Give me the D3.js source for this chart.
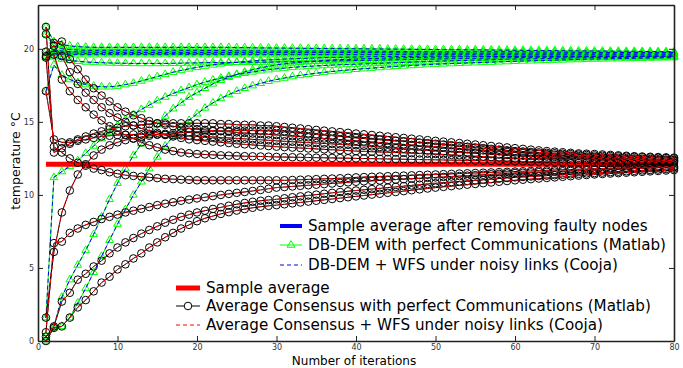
<!DOCTYPE html>
<html>
<head>
<meta charset="utf-8">
<script src="https://cdn.jsdelivr.net/npm/d3@7/dist/d3.min.js"></script>
<style>
  body { margin: 0; background: #fff; }
  svg { display: block; font-family: "DejaVu Sans", sans-serif; }
</style>
</head>
<body>
<div id="chart"></div>
<script>
// iterations 1..80, one value per iteration for each node
const sampleAverage = 12.1;
const sampleAverageNoFaulty = 19.7;

const xTicks = [0, 10, 20, 30, 40, 50, 60, 70, 80];
const yTicks = [0, 5, 10, 15, 20];

// Average Consensus (Matlab), one array per node
const consensusNode1 = [21.5,12.9,13.2,13.5,13.8,14.0,14.2,14.35,14.5,14.6, 14.7,14.75,14.8,14.85,14.9,14.9,14.9,14.9,14.9,14.9, 14.9,14.9,14.85,14.85,14.8,14.8,14.8,14.75,14.75,14.7, 14.65,14.6,14.55,14.5,14.45,14.4,14.35,14.3,14.25,14.2, 14.15,14.1,14.05,14.0,13.95,13.9,13.85,13.8,13.75,13.7, 13.65,13.6,13.55,13.5,13.45,13.4,13.35,13.3,13.25,13.2, 13.15,13.1,13.05,13.0,12.96,12.92,12.88,12.84,12.82,12.8, 12.77,12.74,12.71,12.68,12.65,12.63,12.61,12.59,12.57,12.55];
const consensusNode2 = [21.0,20.4,20.5,19.3,18.6,17.9,17.3,16.8,16.4,16.0, 15.7,15.45,15.25,15.05,14.9,14.8,14.7,14.6,14.55,14.5, 14.45,14.4,14.36,14.32,14.28,14.24,14.2,14.17,14.14,14.1, 14.06,14.02,13.98,13.94,13.9,13.86,13.82,13.78,13.74,13.7, 13.66,13.62,13.58,13.54,13.5,13.46,13.42,13.38,13.34,13.3, 13.26,13.22,13.18,13.14,13.1,13.06,13.02,12.98,12.94,12.9, 12.87,12.84,12.81,12.78,12.75,12.72,12.69,12.66,12.63,12.6, 12.58,12.56,12.54,12.52,12.5,12.48,12.46,12.44,12.42,12.4];
const consensusNode3 = [19.8,20.2,19.5,18.4,17.6,17.0,16.5,16.0,15.6,15.3, 15.0,14.75,14.55,14.4,14.25,14.1,14.0,13.9,13.8,13.75, 13.7,13.65,13.6,13.55,13.5,13.46,13.42,13.38,13.34,13.3, 13.27,13.24,13.21,13.18,13.15,13.12,13.09,13.06,13.03,13.0, 12.98,12.96,12.94,12.92,12.9,12.88,12.86,12.84,12.82,12.8, 12.77,12.74,12.71,12.68,12.65,12.62,12.59,12.56,12.53,12.5, 12.49,12.48,12.47,12.46,12.45,12.44,12.43,12.42,12.41,12.4, 12.39,12.38,12.37,12.36,12.35,12.34,12.33,12.32,12.31,12.3];
const consensusNode4 = [19.5,19.6,17.9,17.1,16.5,16.0,15.5,15.1,14.7,14.4, 14.1,13.85,13.6,13.4,13.25,13.1,13.0,12.9,12.85,12.8, 12.77,12.74,12.71,12.69,12.67,12.65,12.64,12.63,12.62,12.6, 12.59,12.58,12.57,12.56,12.55,12.54,12.53,12.52,12.51,12.5, 12.49,12.48,12.47,12.46,12.45,12.44,12.43,12.42,12.41,12.4, 12.39,12.38,12.37,12.36,12.35,12.34,12.33,12.32,12.31,12.3, 12.29,12.28,12.27,12.26,12.25,12.24,12.23,12.22,12.21,12.2, 12.2,12.2,12.2,12.2,12.2,12.2,12.2,12.2,12.2,12.2];
const consensusNode5 = [19.4,13.3,12.9,12.5,12.2,12.0,11.8,11.7,11.55,11.45, 11.35,11.3,11.25,11.2,11.15,11.1,11.08,11.05,11.03,11.0, 11.0,11.0,11.0,11.0,11.0,11.0,11.0,11.0,11.0,11.0, 11.0,11.02,11.04,11.06,11.08,11.1,11.12,11.14,11.17,11.2, 11.22,11.24,11.26,11.28,11.3,11.32,11.34,11.36,11.38,11.4, 11.42,11.44,11.46,11.48,11.5,11.52,11.54,11.56,11.58,11.6, 11.62,11.64,11.66,11.68,11.7,11.72,11.74,11.76,11.78,11.8, 11.81,11.83,11.84,11.86,11.87,11.89,11.9,11.92,11.93,11.95];
const consensusNode6 = [17.1,13.8,13.6,13.6,13.7,13.8,13.9,14.0,14.05,14.1, 14.12,14.14,14.15,14.15,14.14,14.12,14.1,14.08,14.05,14.02, 14.0,13.97,13.93,13.9,13.87,13.84,13.8,13.77,13.74,13.7, 13.67,13.64,13.61,13.58,13.55,13.52,13.49,13.46,13.43,13.4, 13.36,13.32,13.28,13.24,13.2,13.16,13.12,13.08,13.04,13.0, 12.97,12.94,12.91,12.88,12.85,12.82,12.79,12.76,12.73,12.7, 12.68,12.66,12.64,12.62,12.6,12.58,12.56,12.54,12.52,12.5, 12.48,12.47,12.45,12.44,12.42,12.41,12.39,12.38,12.36,12.35];
const consensusNode7 = [1.6,6.1,8.8,10.3,11.4,12.1,12.7,13.1,13.4,13.6, 13.75,13.87,13.97,14.05,14.12,14.18,14.22,14.26,14.29,14.32, 14.34,14.36,14.38,14.39,14.4,14.4,14.4,14.4,14.4,14.4, 14.36,14.31,14.26,14.21,14.16,14.11,14.06,14.01,13.96,13.9, 13.86,13.82,13.78,13.74,13.7,13.66,13.62,13.58,13.54,13.5, 13.45,13.4,13.35,13.3,13.25,13.2,13.15,13.1,13.05,13.0, 12.97,12.94,12.91,12.88,12.85,12.82,12.79,12.76,12.73,12.7, 12.68,12.66,12.64,12.62,12.6,12.58,12.56,12.54,12.52,12.5];
const consensusNode8 = [0.6,6.7,6.8,7.4,7.7,7.95,8.15,8.35,8.5,8.65, 8.8,8.92,9.05,9.17,9.3,9.4,9.5,9.6,9.68,9.76, 9.84,9.92,10.0,10.07,10.14,10.2,10.27,10.34,10.42,10.5, 10.54,10.58,10.62,10.66,10.7,10.74,10.78,10.82,10.86,10.9, 10.93,10.96,10.99,11.02,11.05,11.08,11.11,11.14,11.17,11.2, 11.23,11.26,11.29,11.32,11.35,11.38,11.41,11.44,11.47,11.5, 11.52,11.54,11.56,11.58,11.6,11.62,11.64,11.66,11.68,11.7, 11.72,11.74,11.76,11.78,11.8,11.82,11.84,11.86,11.88,11.9];
const consensusNode9 = [0.3,1.0,2.7,3.3,4.2,4.6,5.1,5.5,6.0,6.4, 6.75,7.05,7.35,7.6,7.85,8.1,8.3,8.5,8.65,8.8, 8.92,9.04,9.15,9.26,9.36,9.45,9.53,9.6,9.65,9.7, 9.77,9.84,9.9,9.96,10.02,10.08,10.14,10.2,10.25,10.3, 10.35,10.4,10.45,10.5,10.55,10.6,10.65,10.7,10.75,10.8, 10.84,10.88,10.92,10.96,11.0,11.04,11.08,11.12,11.16,11.2, 11.23,11.26,11.29,11.32,11.35,11.38,11.41,11.44,11.47,11.5, 11.53,11.56,11.59,11.62,11.65,11.68,11.71,11.74,11.77,11.8];
const consensusNode10 = [0.0,0.9,1.0,1.6,2.3,2.8,3.4,4.0,4.4,4.9, 5.25,5.65,6.0,6.4,6.75,7.1,7.4,7.7,7.95,8.2, 8.4,8.55,8.7,8.82,8.93,9.03,9.12,9.19,9.25,9.3, 9.36,9.42,9.48,9.54,9.6,9.66,9.72,9.78,9.84,9.9, 9.96,10.02,10.08,10.14,10.2,10.26,10.32,10.38,10.44,10.5, 10.55,10.6,10.65,10.7,10.75,10.8,10.85,10.9,10.95,11.0, 11.04,11.08,11.12,11.16,11.2,11.24,11.28,11.32,11.36,11.4, 11.43,11.46,11.49,11.52,11.55,11.58,11.61,11.64,11.67,11.7];

// DB-DEM (Matlab), one array per node
const dbdemNode1 = [21.5,20.5,20.3,20.2,20.15,20.12,20.1,20.1,20.1,20.1, 20.1,20.1,20.1,20.1,20.1,20.1,20.1,20.1,20.1,20.1, 20.1,20.1,20.1,20.1,20.08,20.08,20.07,20.06,20.06,20.05, 20.05,20.04,20.04,20.03,20.03,20.02,20.02,20.01,20.01,20.0, 20.0,19.99,19.99,19.98,19.98,19.97,19.97,19.96,19.96,19.95, 19.95,19.94,19.94,19.93,19.93,19.92,19.92,19.91,19.91,19.9, 19.9,19.89,19.89,19.88,19.88,19.87,19.87,19.86,19.86,19.85, 19.85,19.84,19.84,19.83,19.83,19.82,19.82,19.81,19.81,19.8];
const dbdemNode2 = [21.0,20.2,20.0,19.95,19.92,19.9,19.9,19.9,19.9,19.9, 19.9,19.9,19.9,19.9,19.9,19.9,19.9,19.9,19.9,19.9, 19.89,19.89,19.88,19.88,19.87,19.87,19.86,19.86,19.85,19.85, 19.85,19.85,19.85,19.85,19.85,19.85,19.85,19.85,19.85,19.85, 19.84,19.84,19.83,19.83,19.82,19.82,19.81,19.81,19.8,19.8, 19.8,19.8,19.8,19.8,19.8,19.8,19.8,19.8,19.8,19.8, 19.8,19.79,19.79,19.78,19.78,19.77,19.77,19.76,19.76,19.75, 19.75,19.75,19.75,19.75,19.75,19.75,19.75,19.75,19.75,19.75];
const dbdemNode3 = [19.8,19.9,19.85,19.8,19.78,19.77,19.76,19.76,19.75,19.75, 19.75,19.75,19.75,19.75,19.75,19.75,19.75,19.75,19.75,19.75, 19.75,19.75,19.75,19.75,19.75,19.75,19.75,19.75,19.75,19.75, 19.75,19.75,19.75,19.75,19.75,19.75,19.75,19.75,19.75,19.75, 19.74,19.74,19.73,19.73,19.72,19.72,19.71,19.71,19.7,19.7, 19.7,19.7,19.7,19.7,19.7,19.7,19.7,19.7,19.7,19.7, 19.7,19.7,19.7,19.7,19.7,19.7,19.7,19.7,19.7,19.7, 19.7,19.7,19.7,19.7,19.7,19.7,19.7,19.7,19.7,19.7];
const dbdemNode4 = [19.5,19.7,19.65,19.62,19.6,19.6,19.6,19.6,19.6,19.6, 19.6,19.6,19.6,19.6,19.6,19.6,19.6,19.6,19.6,19.6, 19.6,19.6,19.6,19.6,19.6,19.6,19.6,19.6,19.6,19.6, 19.6,19.6,19.6,19.6,19.6,19.6,19.6,19.6,19.6,19.6, 19.6,19.6,19.6,19.6,19.6,19.6,19.6,19.6,19.6,19.6, 19.6,19.6,19.6,19.6,19.6,19.6,19.6,19.6,19.6,19.6, 19.6,19.6,19.6,19.6,19.6,19.6,19.6,19.6,19.6,19.6, 19.6,19.6,19.6,19.6,19.6,19.6,19.6,19.6,19.6,19.6];
const dbdemNode5 = [19.4,19.45,19.3,19.2,19.15,19.1,19.07,19.05,19.03,19.02, 19.01,19.0,19.0,19.0,19.0,19.0,19.01,19.02,19.03,19.04, 19.05,19.06,19.06,19.07,19.07,19.08,19.08,19.09,19.09,19.1, 19.11,19.12,19.13,19.14,19.15,19.16,19.17,19.18,19.19,19.2, 19.21,19.22,19.23,19.24,19.25,19.26,19.27,19.28,19.29,19.3, 19.31,19.32,19.33,19.34,19.35,19.36,19.37,19.38,19.39,19.4, 19.41,19.41,19.42,19.42,19.43,19.43,19.44,19.44,19.45,19.45, 19.46,19.46,19.47,19.47,19.48,19.48,19.49,19.49,19.5,19.5];
const dbdemNode6 = [17.1,18.9,18.2,17.9,17.7,17.55,17.45,17.4,17.4,17.45, 17.55,17.65,17.8,17.95,18.1,18.25,18.4,18.52,18.63,18.73, 18.82,18.9,18.97,19.03,19.08,19.13,19.17,19.21,19.24,19.27, 19.3,19.32,19.34,19.36,19.38,19.4,19.41,19.42,19.43,19.44, 19.45,19.46,19.46,19.47,19.47,19.48,19.48,19.49,19.49,19.5, 19.5,19.5,19.5,19.5,19.5,19.5,19.5,19.5,19.5,19.5, 19.5,19.5,19.5,19.5,19.5,19.5,19.5,19.5,19.5,19.5, 19.5,19.5,19.5,19.5,19.5,19.5,19.5,19.5,19.5,19.5];
const dbdemNode7 = [1.6,11.2,11.6,11.95,12.35,12.85,13.35,13.85,14.3,14.75, 15.15,15.5,15.85,16.15,16.45,16.7,16.95,17.15,17.35,17.55, 17.72,17.87,18.0,18.12,18.23,18.33,18.42,18.5,18.57,18.63, 18.68,18.73,18.77,18.8,18.83,18.86,18.89,18.91,18.93,18.95, 18.97,18.99,19.01,19.03,19.05,19.07,19.09,19.11,19.13,19.15, 19.17,19.18,19.2,19.21,19.23,19.24,19.26,19.27,19.29,19.3, 19.31,19.32,19.33,19.34,19.35,19.36,19.37,19.38,19.39,19.4, 19.4,19.41,19.41,19.42,19.42,19.43,19.43,19.44,19.44,19.45];
const dbdemNode8 = [0.3,1.0,3.0,4.2,5.2,6.2,7.3,8.5,9.7,10.8, 11.8,12.7,13.5,14.2,14.8,15.4,15.9,16.3,16.7,17.0, 17.3,17.6,17.85,18.05,18.25,18.42,18.57,18.7,18.8,18.9, 18.97,19.03,19.08,19.12,19.16,19.2,19.23,19.26,19.28,19.3, 19.32,19.34,19.35,19.37,19.38,19.39,19.4,19.41,19.42,19.43, 19.44,19.44,19.45,19.45,19.46,19.46,19.47,19.47,19.48,19.48, 19.49,19.49,19.49,19.49,19.49,19.49,19.49,19.49,19.49,19.49, 19.5,19.5,19.5,19.5,19.5,19.5,19.5,19.5,19.5,19.5];
const dbdemNode9 = [0.0,0.9,1.0,1.6,2.6,3.6,4.7,5.8,6.9,8.0, 9.0,10.0,10.9,11.8,12.6,13.35,14.0,14.6,15.1,15.55, 15.95,16.3,16.6,16.87,17.1,17.3,17.48,17.64,17.78,17.9, 18.0,18.1,18.18,18.26,18.33,18.39,18.45,18.5,18.55,18.6, 18.64,18.68,18.72,18.76,18.8,18.83,18.86,18.89,18.92,18.95, 18.97,18.99,19.01,19.03,19.05,19.07,19.09,19.11,19.13,19.15, 19.17,19.18,19.2,19.21,19.23,19.24,19.26,19.27,19.29,19.3, 19.31,19.32,19.33,19.34,19.35,19.36,19.37,19.38,19.39,19.4];

const consensusSeries = [consensusNode1, consensusNode2, consensusNode3, consensusNode4, consensusNode5,
  consensusNode6, consensusNode7, consensusNode8, consensusNode9, consensusNode10];
const dbdemSeries = [dbdemNode1, dbdemNode2, dbdemNode3, dbdemNode4, dbdemNode5,
  dbdemNode6, dbdemNode7, dbdemNode8, dbdemNode9];
// the Cooja runs follow the Matlab curves closely at this scale
const coojaConsensusSeries = consensusSeries;
const coojaDbdemSeries = dbdemSeries;

const width = 683, height = 368;
const margin = {top: 5, right: 9, bottom: 27, left: 38};

const svg = d3.select('#chart').append('svg')
  .attr('width', width)
  .attr('height', height);

const x = d3.scaleLinear().domain([0, 80]).range([margin.left, width - margin.right]);
const y = d3.scaleLinear().domain([0, 23]).range([height - margin.bottom, margin.top]);

const line = d3.line()
  .x((d, i) => x(i + 1))
  .y(d => y(d));

const plot = svg.append('g');

// sample average after removing faulty nodes
plot.append('line')
  .attr('x1', x(1)).attr('x2', x(80))
  .attr('y1', y(sampleAverageNoFaulty)).attr('y2', y(sampleAverageNoFaulty))
  .attr('stroke', '#0000ff').attr('stroke-width', 4);

// DB-DEM matlab: green line + open triangles
const tri = d3.symbol().type(d3.symbolTriangle).size(26);
dbdemSeries.forEach(s => {
  plot.append('path')
    .attr('d', line(s))
    .attr('fill', 'none').attr('stroke', '#00ff00').attr('stroke-width', 1);
  plot.append('g').selectAll('path')
    .data(s).enter().append('path')
    .attr('d', tri)
    .attr('transform', (d, i) => `translate(${x(i + 1)},${y(d)})`)
    .attr('fill', 'none').attr('stroke', '#00ff00').attr('stroke-width', 1);
});

coojaDbdemSeries.forEach(s => {
  plot.append('path')
    .attr('d', line(s))
    .attr('fill', 'none').attr('stroke', '#0000ff').attr('stroke-width', 1)
    .attr('stroke-dasharray', '4,3');
});

// sample average
plot.append('line')
  .attr('x1', x(1)).attr('x2', x(80))
  .attr('y1', y(sampleAverage)).attr('y2', y(sampleAverage))
  .attr('stroke', '#ff0000').attr('stroke-width', 5);

// average consensus matlab: black line + open circles
consensusSeries.forEach(s => {
  plot.append('path')
    .attr('d', line(s))
    .attr('fill', 'none').attr('stroke', '#000').attr('stroke-width', 1);
  plot.append('g').selectAll('circle')
    .data(s).enter().append('circle')
    .attr('cx', (d, i) => x(i + 1))
    .attr('cy', d => y(d))
    .attr('r', 3.8)
    .attr('fill', 'none').attr('stroke', '#000').attr('stroke-width', 1);
});

coojaConsensusSeries.forEach(s => {
  plot.append('path')
    .attr('d', line(s))
    .attr('fill', 'none').attr('stroke', '#ff0000').attr('stroke-width', 1)
    .attr('stroke-dasharray', '4,3');
});

// axes box with inward ticks on all sides
const axisColor = '#222';
const axisBottomG = svg.append('g')
  .attr('transform', `translate(0,${y(0)})`)
  .call(d3.axisBottom(x).tickValues(xTicks).tickSizeInner(-5).tickSizeOuter(0).tickPadding(3));
const axisTopG = svg.append('g')
  .attr('transform', `translate(0,${y(23)})`)
  .call(d3.axisTop(x).tickValues(xTicks).tickSizeInner(-5).tickSizeOuter(0).tickFormat(''));
const axisLeftG = svg.append('g')
  .attr('transform', `translate(${x(0)},0)`)
  .call(d3.axisLeft(y).tickValues(yTicks).tickSizeInner(-5).tickSizeOuter(0).tickPadding(4));
const axisRightG = svg.append('g')
  .attr('transform', `translate(${x(80)},0)`)
  .call(d3.axisRight(y).tickValues(yTicks).tickSizeInner(-5).tickSizeOuter(0).tickFormat(''));

[axisBottomG, axisTopG, axisLeftG, axisRightG].forEach(g => {
  g.select('.domain').attr('stroke', axisColor).attr('stroke-width', 1.6);
  g.selectAll('.tick line').attr('stroke', axisColor);
  g.selectAll('.tick text').attr('fill', '#333').style('font-size', '8px')
    .style('font-family', '"DejaVu Sans", sans-serif');
});

svg.append('text')
  .attr('x', 354)
  .attr('y', 365)
  .attr('text-anchor', 'middle')
  .style('font-size', '12px')
  .text('Number of iterations');

svg.append('text')
  .attr('transform', `translate(20,161) rotate(-90)`)
  .attr('text-anchor', 'middle')
  .style('font-size', '12.5px')
  .text('temperature  \u00B0C');

// legend
const legend1 = svg.append('g').attr('transform', 'translate(280,0)');
const legend2 = svg.append('g').attr('transform', 'translate(176,0)');
const legendTexts = [];

function legendText(g, xx, yy, label) {
  legendTexts.push(g.append('text').attr('x', xx).attr('y', yy).attr('dy', '0.35em')
    .style('font-size', '14px').text(label));
}

legend1.append('line').attr('x1', 0).attr('x2', 22).attr('y1', 226).attr('y2', 226)
  .attr('stroke', '#0000ff').attr('stroke-width', 4);
legendText(legend1, 28, 226, 'Sample average after removing faulty nodes');
legend1.append('line').attr('x1', 0).attr('x2', 22).attr('y1', 245).attr('y2', 245)
  .attr('stroke', '#00ff00').attr('stroke-width', 1);
legend1.append('path').attr('d', tri).attr('transform', 'translate(11,245)')
  .attr('fill', 'none').attr('stroke', '#00ff00');
legendText(legend1, 28, 245, 'DB-DEM with perfect Communications (Matlab)');
legend1.append('line').attr('x1', 0).attr('x2', 22).attr('y1', 265).attr('y2', 265)
  .attr('stroke', '#0000ff').attr('stroke-width', 1).attr('stroke-dasharray', '4,3');
legendText(legend1, 28, 265, 'DB-DEM + WFS under noisy links (Cooja)');

legend2.append('line').attr('x1', 0).attr('x2', 24).attr('y1', 288).attr('y2', 288)
  .attr('stroke', '#ff0000').attr('stroke-width', 5);
legendText(legend2, 30, 288, 'Sample average');
legend2.append('line').attr('x1', 0).attr('x2', 24).attr('y1', 306).attr('y2', 306)
  .attr('stroke', '#000').attr('stroke-width', 1);
legend2.append('circle').attr('cx', 12).attr('cy', 306).attr('r', 3.8)
  .attr('fill', '#fff').attr('stroke', '#000');
legendText(legend2, 30, 306, 'Average Consensus with perfect Communications (Matlab)');
legend2.append('line').attr('x1', 0).attr('x2', 24).attr('y1', 325).attr('y2', 325)
  .attr('stroke', '#ff0000').attr('stroke-width', 1).attr('stroke-dasharray', '4,3');
legendText(legend2, 30, 325, 'Average Consensus + WFS under noisy links (Cooja)');

// fit legend font so the first entry spans the same width as in the figure (~340px)
const measured = legendTexts[0].node().getComputedTextLength();
const legendSize = Math.min(16, 14 * 340 / measured);
legendTexts.forEach(t => t.style('font-size', legendSize + 'px'));
</script>
</body>
</html>
